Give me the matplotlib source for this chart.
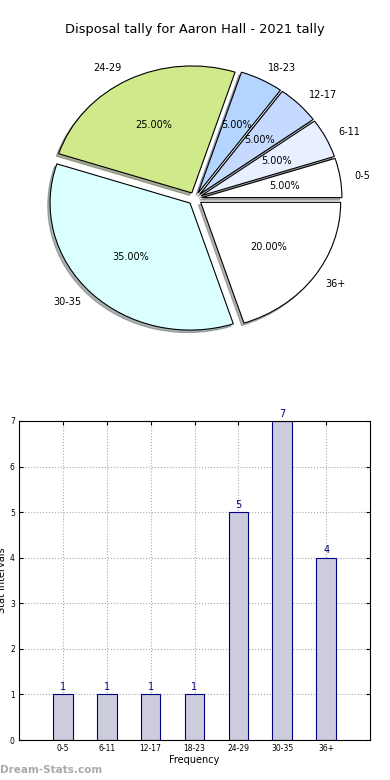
import matplotlib
matplotlib.use("Agg")
import matplotlib.pyplot as plt

# =========================================================
# Data
# =========================================================

intervals = ["0-5", "6-11", "12-17", "18-23", "24-29", "30-35", "36+"]
counts = [1, 1, 1, 1, 5, 7, 4]
slice_colors = ["#ffffff", "#e8f0ff", "#c6d9ff", "#b3d5ff", "#d0e98a", "#d9ffff", "#ffffff"]
title = "Disposal tally for Aaron Hall - 2021 tally"

fig = plt.figure(figsize=(3.9, 7.8), dpi=100)

# =========================================================
# Pie
# =========================================================

ax1 = fig.add_axes([0, 1 - 360 / 780, 1, 320 / 780])
ax1.pie(
    counts,
    labels=intervals,
    colors=slice_colors,
    explode=[0.05] * len(counts),
    autopct="%1.2f%%",
    shadow={"ox": -0.012, "oy": -0.014, "shade": 0.6},
    startangle=0,
    wedgeprops={"edgecolor": "black", "linewidth": 0.8},
    textprops={"fontsize": 7},
)
ax1.set_aspect("auto")
ax1.set_xlim(-195 / 140, 195 / 140)
ax1.set_ylim(-(360 - 198.6) / 127, (198.6 - 40) / 127)
ax1.axis("off")
fig.text(0.5, 1 - 30 / 780, title, ha="center", va="center", fontsize=9.4)

# =========================================================
# Bars
# =========================================================

ax2 = fig.add_axes([19 / 390, 40 / 780, 351 / 390, 319 / 780])
x = range(len(intervals))
ax2.bar(x, counts, width=0.45, color="#ccccdd", edgecolor="navy", linewidth=0.8, zorder=2)
for xi, c in zip(x, counts):
    ax2.text(xi, c + 0.05, str(c), ha="center", va="bottom", color="navy", fontsize=7)
ax2.set_xlim(-1, 7)
ax2.set_ylim(0, 7)
ax2.set_xticks(list(x))
ax2.set_xticklabels(intervals)
ax2.tick_params(labelsize=5.5, direction="in", top=True, right=True, length=3, pad=3)
ax2.grid(True, linestyle=":", color="#aaaaaa", linewidth=0.8)
ax2.set_xlabel("Frequency", fontsize=7, labelpad=1)
ax2.set_ylabel("Stat Intervals", fontsize=7, labelpad=2)

fig.text(0.0, 1 - 770 / 780, "Dream-Stats.com", ha="left", va="center",
         fontsize=7.5, color="#aaaaaa", fontweight="bold")

fig.savefig("out.png", dpi=100)
